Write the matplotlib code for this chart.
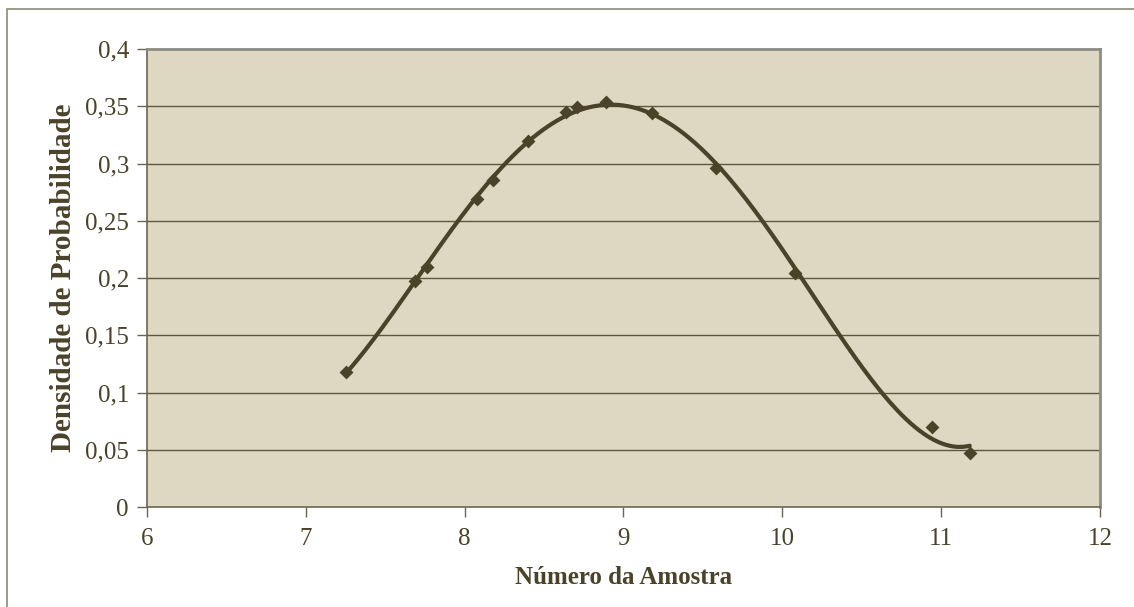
import numpy as np
import matplotlib
matplotlib.use("Agg")
import matplotlib.pyplot as plt
from matplotlib.patches import Rectangle

# Data
sample_number = [7.25, 7.69, 7.76, 8.08, 8.18, 8.40, 8.64, 8.71, 8.89, 9.18, 9.58, 10.08, 10.94, 11.18]
density = [0.118, 0.197, 0.210, 0.269, 0.286, 0.320, 0.345, 0.349, 0.354, 0.344, 0.296, 0.204, 0.070, 0.047]
x_ticks = [6, 7, 8, 9, 10, 11, 12]
y_ticks = [0, 0.05, 0.1, 0.15, 0.2, 0.25, 0.3, 0.35, 0.4]
y_tick_labels = ["0", "0,05", "0,1", "0,15", "0,2", "0,25", "0,3", "0,35", "0,4"]
trend_degree = 4

dark = "#4a4229"
bg = "#ded8c3"

plt.rcParams['font.family'] = ['Liberation Serif', 'DejaVu Serif']

fig = plt.figure(figsize=(11.34, 6.07), dpi=100)
W, H = 1134, 607
left, right, top, bottom = 147, 1100, 49, 507
ax = fig.add_axes([left / W, 1 - bottom / H, (right - left) / W, (bottom - top) / H])

# outer chart frame (left/top visible)
fig.patches.append(Rectangle((7 / W, -0.1), 1.2, 1 - 9 / H + 0.1, transform=fig.transFigure,
                             fill=False, edgecolor="#8c8a7a", linewidth=1.2))

ax.set_facecolor(bg)
ax.set_xlim(6, 12)
ax.set_ylim(0, 0.4)

# polynomial trendline
xs = np.array(sample_number)
ys = np.array(density)
coef = np.polyfit(xs, ys, trend_degree)
xx = np.linspace(xs.min(), xs.max(), 400)
ax.plot(xx, np.polyval(coef, xx), color=dark, linewidth=3.0, zorder=3, solid_capstyle='round')
ax.scatter(xs, ys, marker="D", s=50, color=dark, zorder=4, linewidths=0)

ax.set_yticks(y_ticks)
ax.set_yticklabels(y_tick_labels)
ax.set_xticks(x_ticks)
for yv in y_ticks[1:-1]:
    ax.axhline(yv, color="#5e573f", linewidth=1.0, zorder=1)

for s in ["top", "right"]:
    ax.spines[s].set_color("#8c8c84")
    ax.spines[s].set_linewidth(2)
for s in ["left", "bottom"]:
    ax.spines[s].set_color("#6b6552")
    ax.spines[s].set_linewidth(1.2)

ax.tick_params(axis='both', direction='out', length=7, width=1, color="#6b6552",
               labelsize=18, labelcolor=dark)
ax.tick_params(axis='x', pad=8)
ax.tick_params(axis='y', pad=6)

ax.set_xlabel("Número da Amostra", fontsize=18, fontweight='bold', color=dark, labelpad=12)
ax.set_ylabel("Densidade de Probabilidade", fontsize=21, fontweight='bold', color=dark, labelpad=6)

fig.savefig("out.png", dpi=100, facecolor="white")
